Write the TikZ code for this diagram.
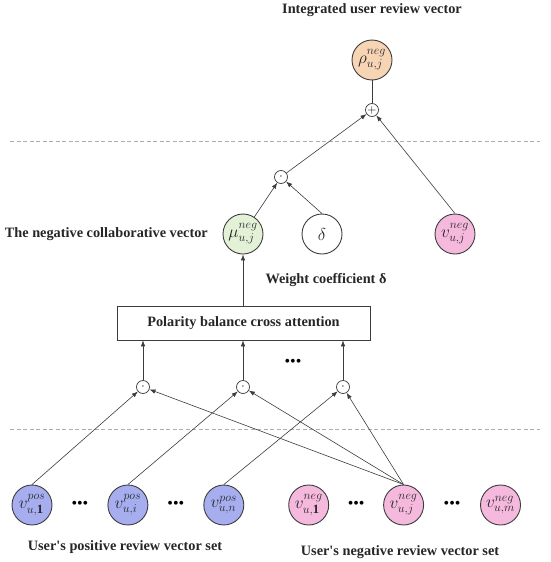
\documentclass[tikz,border=0pt]{standalone}
\usepackage{fontspec}
\setmainfont{Liberation Serif}
\usepackage{amsmath}
\usetikzlibrary{
    arrows.meta,
    positioning,
    calc
}
\definecolor{posblue}{HTML}{A7AEF0}
\definecolor{negpink}{HTML}{F5B9DD}
\definecolor{collgreen}{HTML}{E3F2D6}
\definecolor{intpeach}{HTML}{F7D4B4}
\definecolor{linegray}{HTML}{3C3C3C}
\definecolor{sepgray}{HTML}{AAAEB2}

\begin{document}
\begin{tikzpicture}[
    x=1pt, y=-1pt,
    vec/.style={
        circle,
        draw=linegray,
        line width=0.9pt,
        minimum size=40pt,
        inner sep=0pt,
        text=black!85,
        font=\fontsize{18}{20}\selectfont
    },
    opnode/.style={
        circle,
        draw=linegray,
        line width=0.7pt,
        minimum size=13pt,
        inner sep=0pt,
        font=\fontsize{13}{13}\selectfont
    },
    caption/.style={
        font=\bfseries\fontsize{14.3}{17}\selectfont,
        text=black!85,
        inner sep=0pt
    },
    ellip/.style={
        font=\fontsize{16}{16}\selectfont,
        inner sep=0pt
    },
    flow/.style={
        -{Latex[length=6pt,width=4.5pt]},
        line width=0.6pt,
        draw=linegray
    },
    link/.style={
        line width=0.6pt,
        draw=linegray
    },
    sep/.style={
        dash pattern=on 4pt off 2.5pt,
        draw=sepgray,
        line width=1pt
    }
]
\useasboundingbox (0,0) rectangle (550,562);

% top: integration
\node[caption] (integrated) at (372,10) {Integrated user review vector};
\node[vec, fill=intpeach] (rho) at (372,60) {$\rho^{neg}_{u,j}$};
\node[opnode] (plus) at (372,110) {$+$};

\draw[sep] (10,141) -- (540,141);

% middle: weighting
\node[opnode] (dottop) at (281,177) {$\cdot$};
\node[vec, fill=collgreen] (mu) at (243,234) {$\mu^{neg}_{u,j}$};
\node[vec] (delta) at (322,234) {$\delta$};
\node[vec, fill=negpink] (vnegr) at (455,234) {$v^{neg}_{u,j}$};
\node[caption, anchor=east] (collab) at (208,234) {The negative collaborative vector};
\node[caption] (weight) at (326,280) {Weight coefficient δ};

\node[draw=linegray, line width=0.8pt, minimum width=253pt, minimum height=34pt,
    font=\bfseries\fontsize{14.3}{17}\selectfont, text=black!85] (pbca) at (243.5,323)
    {Polarity balance cross attention};

\node[opnode] (od1) at (143,387) {$\cdot$};
\node[opnode] (od2) at (243,387) {$\cdot$};
\node[opnode] (od3) at (343,387) {$\cdot$};
\node[ellip] (dotsmid) at (293,363) {•••};

\draw[sep] (10,429) -- (540,429);

% bottom: review vector sets
\node[vec, fill=posblue] (vp1) at (32,505) {$v^{pos}_{u,\mathbf{1}}$};
\node[vec, fill=posblue, right=55pt of vp1] (vpi) {$v^{pos}_{u,i}$};
\node[vec, fill=posblue, right=55pt of vpi] (vpn) {$v^{pos}_{u,n}$};
\node[vec, fill=negpink, right=44pt of vpn] (vn1) {$v^{neg}_{u,\mathbf{1}}$};
\node[vec, fill=negpink, right=54pt of vn1] (vnj) {$v^{neg}_{u,j}$};
\node[vec, fill=negpink, right=56pt of vnj] (vnm) {$v^{neg}_{u,m}$};

\node[ellip] (dots1) at ($(vp1)!0.5!(vpi)$) {•••};
\node[ellip] (dots2) at ($(vpi)!0.5!(vpn)$) {•••};
\node[ellip] (dots3) at ($(vn1)!0.5!(vnj)$) {•••};
\node[ellip] (dots4) at ($(vnj)!0.5!(vnm)$) {•••};

\node[caption] (posset) at (125,547) {User\textquotesingle s positive review vector set};
\node[caption] (negset) at (400,552) {User\textquotesingle s negative review vector set};

% connectors
\draw[flow] (vp1.north) -- (od1);
\draw[flow] (vpi.north) -- (od2);
\draw[flow] (vpn.north) -- (od3);
\draw[flow] (vnj.north) -- (od1);
\draw[flow] (vnj.north) -- (od2);
\draw[flow] (vnj.north) -- (od3);

\draw[flow] (od1) -- (od1 |- pbca.south);
\draw[flow] (od2) -- (od2 |- pbca.south);
\draw[flow] (od3) -- (od3 |- pbca.south);

\draw[flow] (pbca.north -| mu) -- (mu);
\draw[flow] (mu) -- (dottop);
\draw[flow] (delta.north) -- (dottop);
\draw[flow] (dottop) -- (plus);
\draw[flow] (vnegr.north) -- (plus);
\draw[link] (plus) -- (rho);

\end{tikzpicture}
\end{document}
